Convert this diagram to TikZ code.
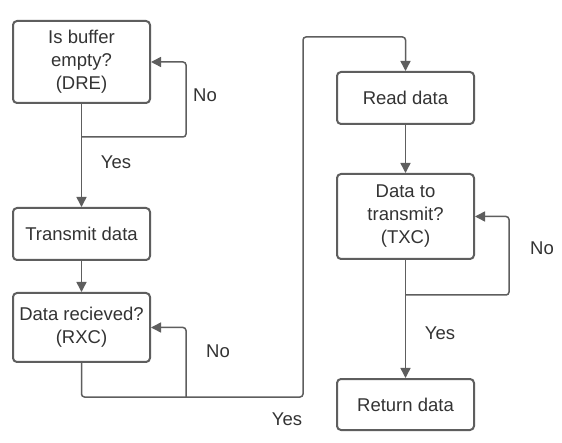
\documentclass[tikz,border=0pt]{standalone}
\usepackage{fontspec}
\setmainfont{Liberation Sans}
\usetikzlibrary{arrows.meta}
\definecolor{linegray}{HTML}{5E5E5E}
\definecolor{textgray}{HTML}{333333}
\begin{document}
\begin{tikzpicture}[x=1pt,y=-1pt,
  stepbox/.style={draw=linegray, line width=2pt, rounded corners=4pt, fill=white,
    minimum width=137pt, inner sep=0pt, align=center, text=textgray,
    font=\fontsize{18.5}{23}\selectfont},
  conn/.style={draw=linegray, line width=1.5pt, rounded corners=3pt},
  arr/.style={conn, -{Triangle[length=10pt,width=10pt]}},
  lbl/.style={text=textgray, font=\fontsize{18.5}{23}\selectfont, inner sep=0pt}]
\useasboundingbox (0,0) rectangle (562,443);
\fill[white] (0,0) rectangle (562,443);
% nodes
\node[stepbox, minimum height=82pt] (b1) at (81.5,62) {Is buffer\\empty?\\(DRE)};
\node[stepbox, minimum height=52pt] (b2) at (81.5,234) {Transmit data};
\node[stepbox, minimum height=69pt] (b3) at (81.5,327.5) {Data recieved?\\(RXC)};
\node[stepbox, minimum height=52pt] (rd) at (405.5,98) {Read data};
\node[stepbox, minimum height=85pt] (tx) at (405.5,216.5) {Data to\\transmit?\\(TXC)};
\node[stepbox, minimum height=51pt] (rt) at (405.5,404.5) {Return data};
% junction coordinates
\coordinate (j1) at (81.5,137);
\coordinate (c1) at (186,137);
\coordinate (j2) at (81.5,397);
\coordinate (c2) at (186,397);
\coordinate (c3) at (303,397);
\coordinate (c4) at (405.5,37);
\coordinate (j3) at (405.5,295);
\coordinate (c5) at (509,295);
% connectors
\draw[arr] (b1.south) -- (b2.north);
\draw[arr] (j1) -- (c1) |- (b1.east);
\draw[arr] (b2.south) -- (b3.north);
\draw[conn] (b3.south) -- (j2) -- (c2);
\draw[arr] (c2) |- (b3.east);
\draw[arr] (c2) -- (c3) |- (c4) -- (rd.north);
\draw[arr] (rd.south) -- (tx.north);
\draw[arr] (tx.south) -- (rt.north);
\draw[arr] (j3) -- (c5) |- (tx.east);
% labels
\node[lbl] (n1) at (205,95) {No};
\node[lbl] (y1) at (116,162) {Yes};
\node[lbl] (n2) at (218,351) {No};
\node[lbl] (y2) at (287,419) {Yes};
\node[lbl] (n3) at (542,248) {No};
\node[lbl] (y3) at (440,333) {Yes};
\end{tikzpicture}
\end{document}
